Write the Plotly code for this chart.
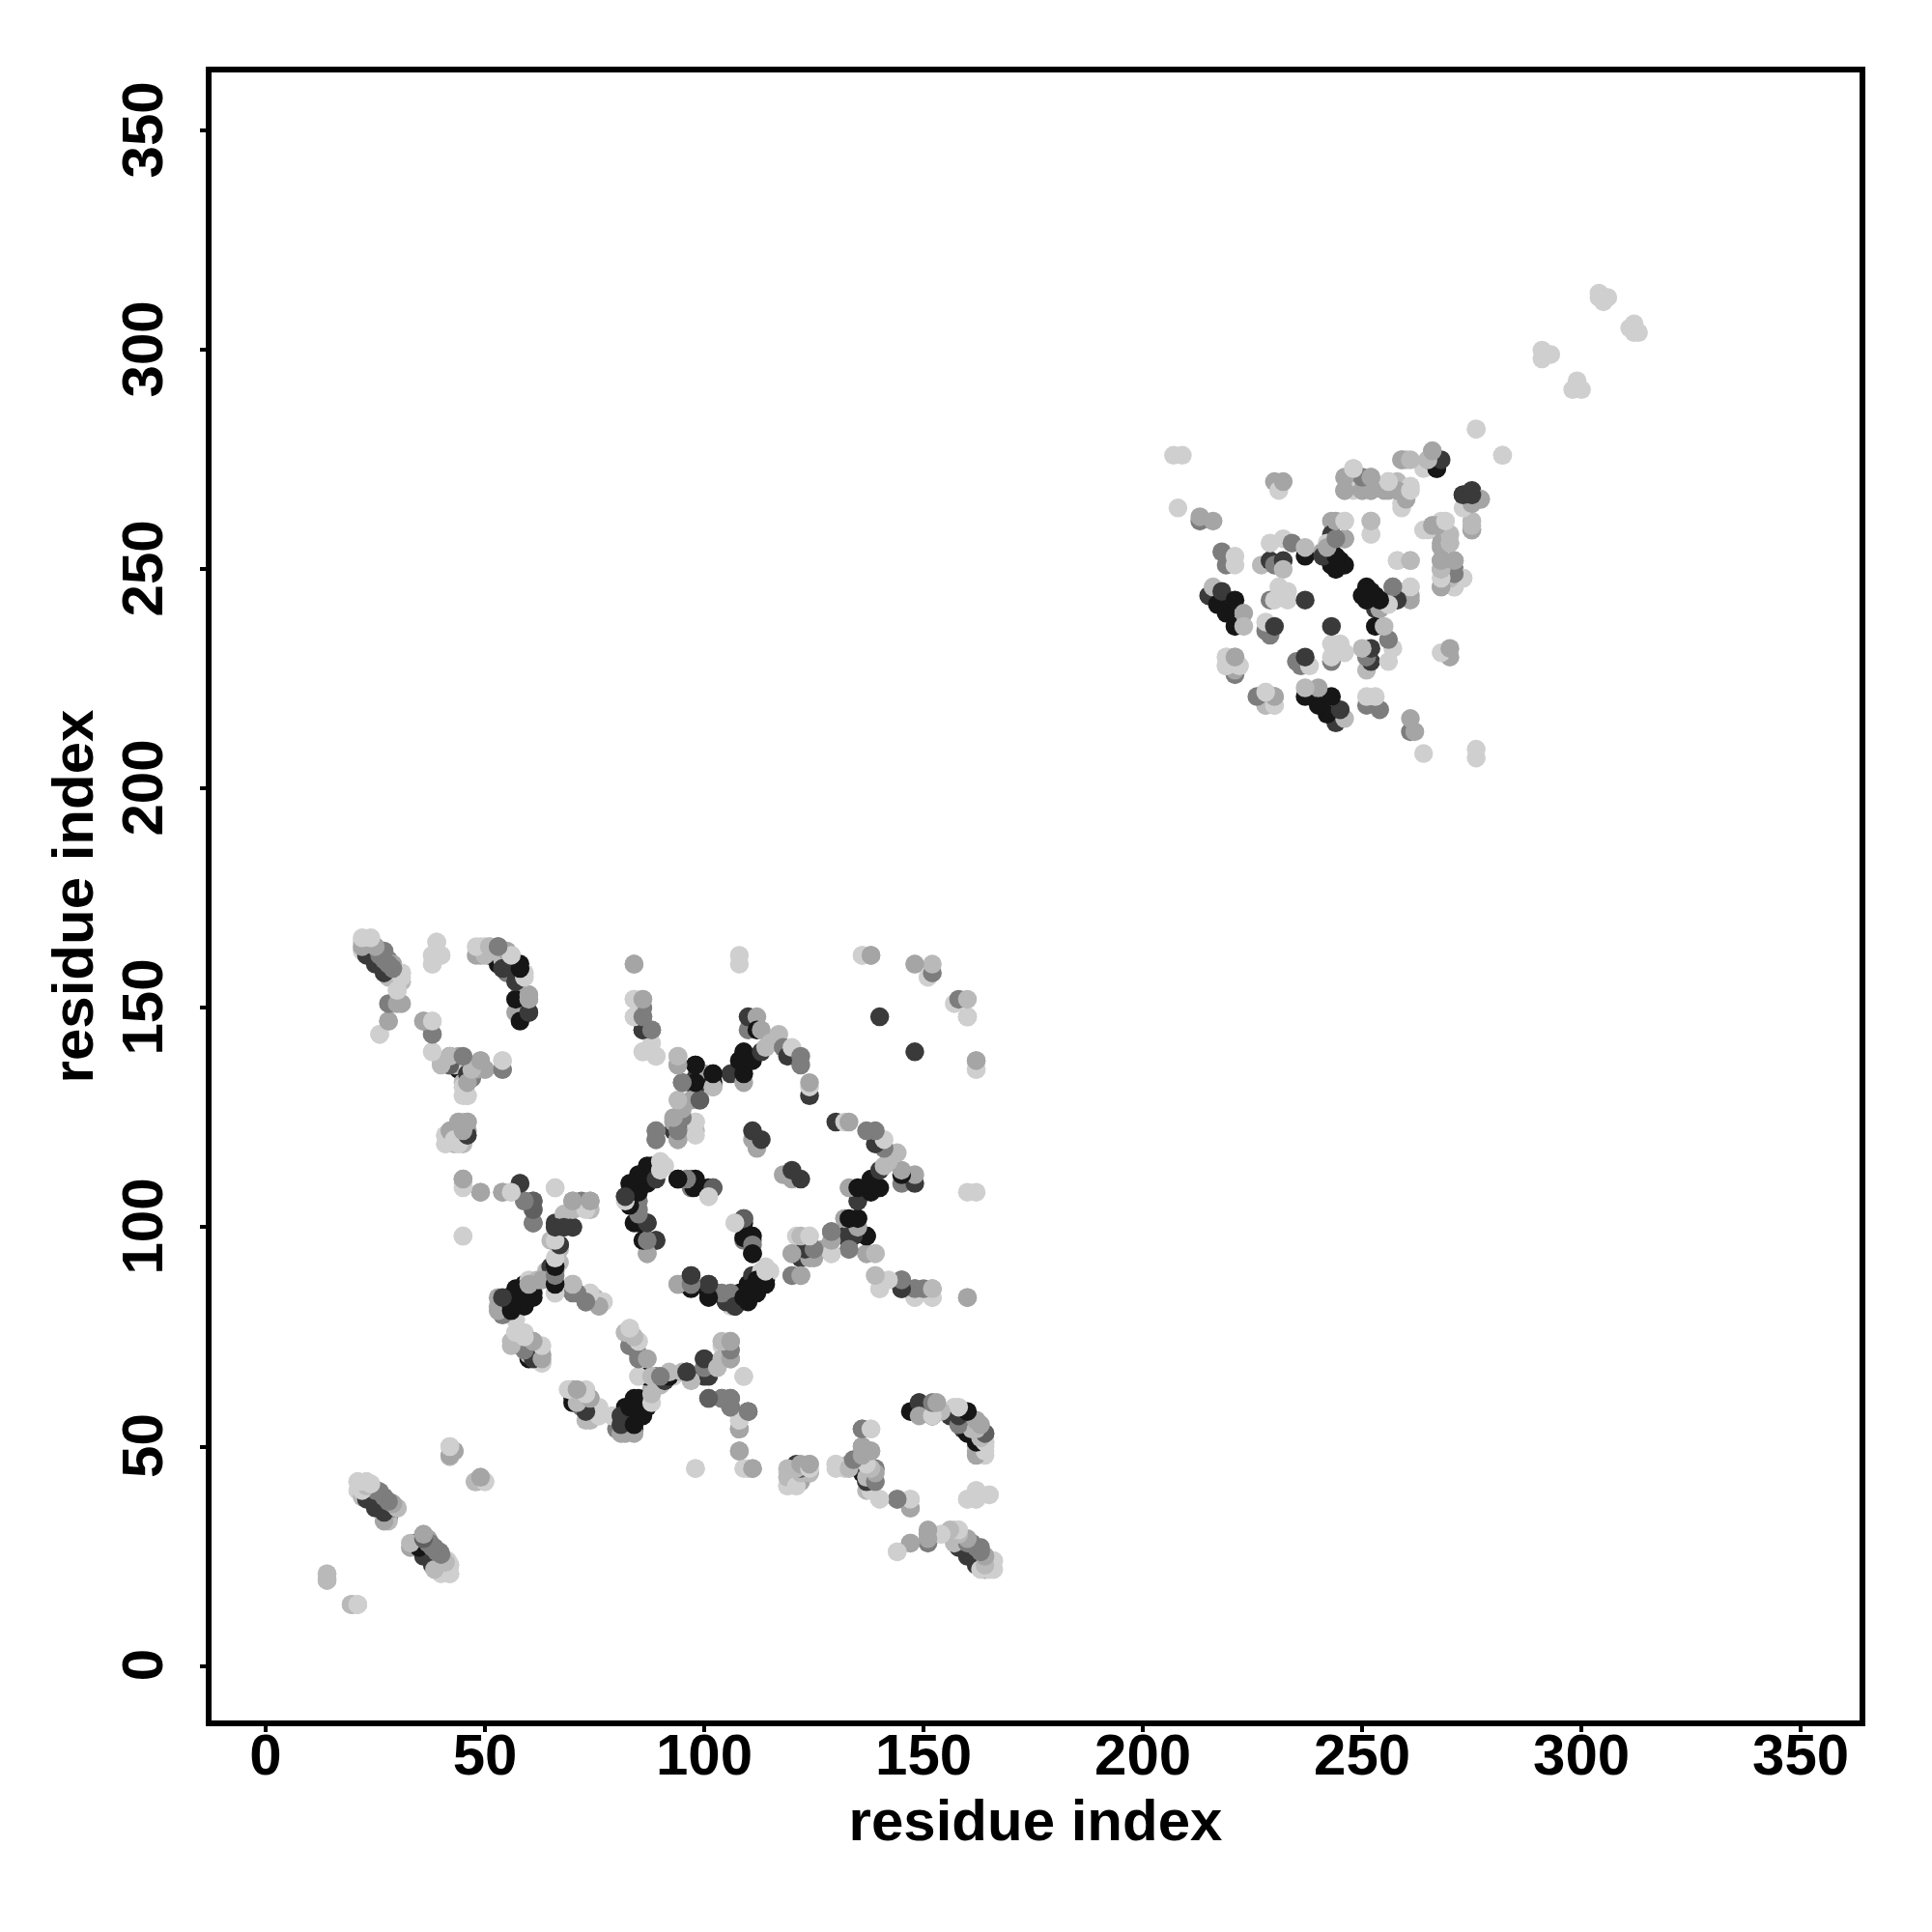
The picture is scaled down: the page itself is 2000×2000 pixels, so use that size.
import plotly.graph_objects as go

K, D, S, M, G, A, L = 22, 58, 95, 125, 165, 185, 207

# contacts are read as (residue a, residue b, grey level); the map is symmetric
strand_far_left = [(14,19.5,A),(14,20,A),(14,21,L)]
strand_far_left2 = [(19.5,14,A),(21,14,A)]
helix_a = [(33,27,G),(35,27,D),(36,25,D),(38,23,D),(36,30,A),(37,29,G),(37.5,28,M),(38.5,27,M),(39.7,26,M),(40,25,M),(40,22,L),(41,23,A),(41.5,24,L),(42,21,L),(42,23,L)]
helix_b = [(25,37,D),(26,36,D),(27,35,K),(28,34,K),(28,33,A),(21,42,L),(23,42,L),(21,40,L),(22,38.5,A),(23.6,41,A),(25.4,40,M),(26,39,M),(27,38,M),(28,37,M),(29,36,S),(30,36,G)]
small_a = [(42,47.7,A),(42,50,L),(43,49,G),(48,42,G),(49,43,G),(50,42,L)]
strand_c = [(24,162,D),(25,161,D),(26,160,D),(27,159,D),(28,158,D),(28,157,A),(22,165,L),(23,165,L),(24,165,L),(22,163,L),(23,164,A),(25,164,G),(26,163,M),(27,162,M),(27,163,M),(28,161,M),(28,160,M),(29,160,G),(30,158,A),(31,158,L),(31,156,A),(30,154,L),(29,151,G),(31,151,G),(28,147,G),(26,144,L)]
strand_d = [(38,160,L),(38,162,L),(40,162,L),(39,165,L)]
strand_e = [(48,162,G),(49,164,L),(50,164,L),(51,162,K),(53,160,K),(51,164,L),(52,163,A),(53,164,S),(54,161,A),(55,158,M),(54,162,A),(56,162,G),(55,163,G),(57,158,D),(58,160,K),(59,158,L),(58,148,K),(58,152,K),(59,152,A),(58,154,A),(59,150,A),(60,149,D),(57,149,G),(57,152,L),(60,152,M),(60,153,G)]
strand_f = [(36,147,G),(38,147,L),(38,144,M),(38,140,L),(40,138,L),(42,137,D),(44,136,K),(46,135,D),(43,137,A),(42,139,M),(44,139,G),(45,138,A),(46,137,L),(45,130,L),(46,130,L),(45,133,A),(47,134,M),(48,136,G),(50,136,G),(49,138,G),(54,136,M),(54,138,L)]
strand_g = [(43,121,D),(44,120,S),(41,119,L),(43,119,A),(45,119,A),(41,121,L),(44,122,A),(44,124,A),(45,122,S),(45,121,A),(46,122,G),(45,124,L),(46,124,G)]
scatter_h = [(45,110,L),(45,111,G),(49,108,G),(54,108,G),(56,108,L),(58,110,M),(59,106,M),(61,106,M),(61,104,M),(61,101,S),(45,98,L),(66,109,L)]
strand_i = [(66,85,L),(66,88,A),(64,90,A),(65,91,D),(66,92,K),(67,92,A),(67,95,A),(65,97,A),(67,96,D),(66,101,D),(68,100,M),(70,100,D),(68,103,A),(70,104,A),(70,106,G),(72,106,M),(74,104,A),(74,106,G),(66,90,M)]
strand_j = [(53,82,G),(53,84,G),(57,79,L),(55,81,D),(57,81,D),(59,83,K),(55,84,K),(57,86,K),(59,87,K),(61,85,K),(60,88,L),(62,88,A),(70,85,M),(70,87,G),(73,83,M),(74,85,L),(75,84,A),(76,82,A),(77,83,L)]
strand_k = [(56,74,A),(57,76,L),(59,76,L),(58,73,D),(60,70,K),(60,71,A),(61,74,G),(62,73,L),(63,69,L),(63,71,G)]
strand_l = [(69,63,L),(70,61,D),(70,63,G),(73,63,L),(72,59,M),(74,61,G),(73,56,A),(75,59,L),(76,57,L),(79,57,L)]
strand_m = [(80,54,M),(81,53,G),(81,56,K),(82,59,K),(84,61,K),(82,56,K),(84,57,K),(86,59,K),(84,54,D),(87,60,G),(88,63,G)]
strand_n = [(83,77,L),(82,76,G),(85,74,L),(83,73,M),(85,71,M),(87,70,A),(85,66,L),(87,66,K),(89,66,M),(91,66,K),(93,66,L),(96,67,D),(97,66,L),(100,70,D),(100,66,D),(100,68,D),(104,70,A),(104,73,L),(106,74,G),(106,70,G),(109,66,L)]
strand_o = [(101,61,M),(104,61,S),(106,61,S),(106,59,M),(110,58,D),(108,54,G),(108,56,L),(108,49,G),(109,45,L),(111,45,G),(98,45,L)]
strand_p = [(121,43,D),(122,44,M),(119,41,L),(121,41,L),(122,42,G),(119,44,L),(120,43,L),(121,46,D),(122,45,G),(124,44,G),(124,46,G)]
strand_q = [(135,46,D),(137,42,S),(130,46,L),(132,45,L),(133,46,G),(136,50,G),(136,54,M),(138,54,L),(136,47,A),(138,49,G),(139,42,A),(139,45,M),(137,40,A),(140,38,L),(144,38,M),(147,36,G),(147,38,L)]
strand_r = [(160,38,L),(162,38,L),(162,40,L),(165,39,L)]
strand_s = [(147,58,K),(149,60,D),(152,57,K),(152,60,G),(153,60,G),(156,57,D),(157,59,L),(159,54,D),(159,58,K),(162,56,L),(162,49,G),(162,50,A),(164,48,L),(164,51,A),(164,53,M)]
strand_t = [(144,26,L),(147,28,G),(151,28,M),(151,30,G),(154,30,L),(157,31,L),(158,27,D),(160,25,D),(162,23,D),(158,31,L),(159,29,M),(160,28,M),(161,27,M),(162,26,M),(164,22,G),(164,25,G),(166,22,L),(166,24,L)]
strand_u = [(84,160,G),(84,148,L),(84,152,L),(86,148,M),(86,145,D),(86,150,M),(86,152,A),(88,145,M),(88,142,L),(86,140,L),(88,140,L),(89,139,A)]
strand_v = [(94,137,G),(94,139,A),(98,137,K),(98,134,D),(98,132,D),(100,135,G),(102,132,G),(102,133,K),(102,135,K),(95,133,M),(94,129,L),(97,129,G),(99,129,M),(93,122,D),(93,124,G),(95,123,D),(95,125,M),(94,120,G),(98,122,A),(98,124,L),(89,120,M),(89,122,G)]
strand_w = [(106,135,D),(109,133,G),(109,135,K),(108,138,K),(109,140,K),(111,138,K),(113,140,D),(114,141,A),(110,145,M),(110,148,D),(112,148,G),(112,145,K),(113,145,G),(117,144,A),(115,142,A),(118,141,M),(119,139,D),(120,141,L),(122,139,M),(122,137,M),(124,130,D),(124,132,L),(124,133,G)]
center_x = [(112,118,G),(111,120,G),(111,122,D),(113,120,D)]
strand_y = [(83,105,D),(85,104,M),(85,106,M),(82,107,D),(83,110,K),(84,109,K),(85,112,K),(86,110,K),(87,114,K),(88,112,K),(90,114,L),(91,114,L)]
strand_z = [(84,101,K),(87,101,D),(87,96,K),(87,94,G),(87,97,M),(89,97,D)]
strand_aa = [(94,111,K),(97,109,M),(97,111,M),(97.6,109,K),(101,107,L),(101,109,K),(102,109,D)]
strand_ab = [(98,111,K),(96,111,M),(94,111,K),(102,109,S),(101,107,L)]
strand_ac = [(124,98,L),(121,98,L),(120,94,G),(122,94,M),(125,95,M),(125,93,G),(127,95,G),(129,94,A),(129,99,S),(133,98,K),(132,102,A),(135,102,K),(137,98,K),(133,95,M),(137,94,G),(139,94,A),(120,89,M),(122,89,M)]
strand_ad = [(139,89,L),(140,86,L),(140,88,L),(145,86,D),(145,88,M),(148,84,L),(148,86,M),(152,84,L),(152,86,G),(160,84,G),(108,160,L),(108,162,L),(136,162,L),(138,162,G),(162,136,L)]
strand_ae = [(97,89,D),(94,87,G),(97,86,K),(97,87,M),(101,85,K),(101,87,D),(103,85,M),(105,83,K),(106,82,L),(108,83,K),(108,85,K),(107,82,D),(110,85,K),(110,87,K),(112,86,K),(114,88,K),(111,89,D),(113,90,L),(115,90,L)]
strand_af = [(140,148,D),(148,160,L),(151,157,L),(152,158,M),(152,160,A),(160,148,G),(162,138,G)]
domain2_a = [(207,276,L),(209,276,L),(208,264,L),(213,261,M),(213,262,G),(216,261,G),(218,254,M),(219,251,M),(221,251,L),(221,253,L)]
domain2_b = [(215,244,D),(216,246,A),(217,242,K),(219,240,K),(218,245,D),(221,243,K),(221,237,K),(223,240,G),(223,237,A),(228,236,M),(229,235,M),(228,238,L),(230,237,D)]
domain2_c = [(219,228,A),(219,230,L),(221,226,M),(221,230,G),(222,228,L),(227,221,G),(228,219,L),(228,222,L),(230,219,L),(230,221,G)]
domain2_d = [(230,270,G),(231,268,L),(232,270,G),(227,251,A),(229,252,D),(230,251,M),(229,256,L),(232,252,D),(232,250,A),(232,257,L),(234,256,M),(237,253,K),(237,255,A)]
domain2_e = [(241,254,G),(243,261,G),(246,261,L),(243,258,D),(246,257,M),(242,256,L),(243,254,K),(243,251,K),(244,251,K),(245,252,K),(252,258,L),(252,261,A),(258,252,L),(261,252,A)]
domain2_f = [(229,243,M),(230,243,L),(231,246,L),(233,245,L),(233,243,L),(237,243,D)]
domain2_g = [(250,244,K),(251,243,K),(251,246,K),(253,241,D),(253,244,K),(255,242,G),(257,246,G),(257,244,M),(261,244,G),(261,246,L)]
domain2_h = [(264,259,L),(266,260,G),(268,258,G),(268,261,L),(268,255,G),(270,256,L),(268,250,G),(268,252,G),(271,250,M),(271,252,G),(268,246,G),(271,246,G),(273,248,L),(275,259,G),(275,261,A),(273,267,K),(275,268,D),(275,265,A),(277,266,G)]
domain2_i = [(259,275,G),(260,275,A),(264,273,L),(265,275,G),(267,273,D),(266,277,G),(267,275,D),(276,282,L),(282,276,L)]
domain2_j = [(246,271,L),(248,273,L),(248,270,A),(249,271,M),(246,268,G),(248,268,L),(250,268,A),(252,268,G),(252,271,G),(256,268,G),(256,270,A),(258,270,A),(259,265,L),(260,266,G),(260,267,G),(261,269,L)]
domain2_k = [(291,298,L),(291,300,L),(292,299,L),(293,299,L),(304,312,L),(304,313,L),(305,311,L),(306,312,L)]

strands = [strand_far_left, strand_far_left2, helix_a, helix_b, small_a, strand_c, strand_d, strand_e, strand_f, strand_g,
           scatter_h, strand_i, strand_j, strand_k, strand_l, strand_m, strand_n, strand_o, strand_p, strand_q, strand_r,
           strand_s, strand_t, strand_u, strand_v, strand_w, center_x, strand_y, strand_z, strand_aa, strand_ab, strand_ac,
           strand_ad, strand_ae, strand_af, domain2_a, domain2_b, domain2_c, domain2_d, domain2_e, domain2_f, domain2_g,
           domain2_h, domain2_i, domain2_j, domain2_k]

x_vals, y_vals, colors = [], [], []
for mirror in (False, True):
    for strand in strands:
        for a, b, g in strand:
            x_vals.append(b if mirror else a)
            y_vals.append(a if mirror else b)
            colors.append(f"rgb({g},{g},{g})")

fig = go.Figure(go.Scatter(x=x_vals, y=y_vals, mode="markers",
                           marker=dict(size=19.5, color=colors, line=dict(width=0)),
                           showlegend=False, cliponaxis=True))

tick_vals = [0, 50, 100, 150, 200, 250, 300, 350]
font = dict(family="Liberation Sans", size=60, color="black", weight="bold")
axis = dict(tickmode="array", tickvals=tick_vals, ticktext=[str(t) for t in tick_vals],
            ticks="outside", ticklen=6, tickwidth=4, tickcolor="black", tickfont=font,
            showgrid=False, zeroline=False, showline=True, mirror=True,
            linecolor="black", linewidth=6, title_font=font)
fig.update_xaxes(range=[-12.33, 363.4], title_text="residue index", title_standoff=16, ticklabelstandoff=-28,
                 automargin=True, **axis)
fig.update_yaxes(range=[-12.44, 363.3], title_text="residue index", title_standoff=0, tickangle=-90,
                 ticklabelstandoff=15, ticklabelshift=8, **axis)
fig.update_layout(width=2000, height=2000, autosize=False, paper_bgcolor="white", plot_bgcolor="white",
                  margin=dict(l=219, r=75, t=75, b=219, autoexpand=False))
fig.write_html("out.html", config=dict(displayModeBar=False), post_script="document.body.style.margin='0';")
